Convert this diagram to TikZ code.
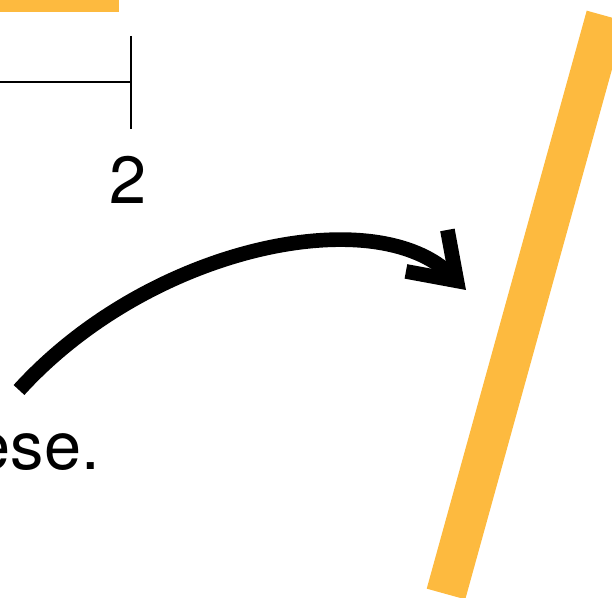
\documentclass[tikz,border=0pt]{standalone}
\usepackage{fontspec}
\setsansfont{TeX Gyre Heros}
\usetikzlibrary{arrows.meta}
\definecolor{bdorange}{HTML}{FDBA3F}
\tikzset{
  bar/.style={draw=bdorange,line width=30pt,line cap=butt},
  axisline/.style={draw=black,line width=1.5pt},
  tickline/.style={draw=black,line width=2pt},
  bigtext/.style={font=\sffamily\fontsize{50}{60}\selectfont,inner sep=0pt,text=black},
  bendarrow/.style={draw=black,line width=11pt,
    -{Straight Barb[length=32pt,width=44pt,line join=miter,line cap=butt]}},
}
\begin{document}
\begin{tikzpicture}[x=0.75pt,y=-0.75pt]
  \useasboundingbox (0,0) rectangle (612,598);
  % bars
  \coordinate (topa) at (-10,-8);
  \coordinate (topb) at (119,-8);
  \draw[bar] (topa) -- (topb);
  \coordinate (slanta) at (446,594);
  \coordinate (slantb) at (606,16);
  \draw[bar] (slanta) -- (slantb);
  % scale with tick
  \coordinate (axa) at (-10,82);
  \coordinate (axb) at (131,82);
  \draw[axisline] (axa) -- (axb);
  \coordinate (ticktop) at (131,36);
  \coordinate (tickbot) at (131,129);
  \draw[tickline] (ticktop) -- (tickbot);
  \node[bigtext,anchor=base] (two) at (128,204) {2};
  % text and arrow
  \node[bigtext,anchor=base east] (words) at (100,470) {ese.};
  \coordinate (from) at (19,390);
  \coordinate (tip) at (466,290);
  \draw[bendarrow] (from) .. controls (150,246) and (376,200) .. (tip);
\end{tikzpicture}
\end{document}
